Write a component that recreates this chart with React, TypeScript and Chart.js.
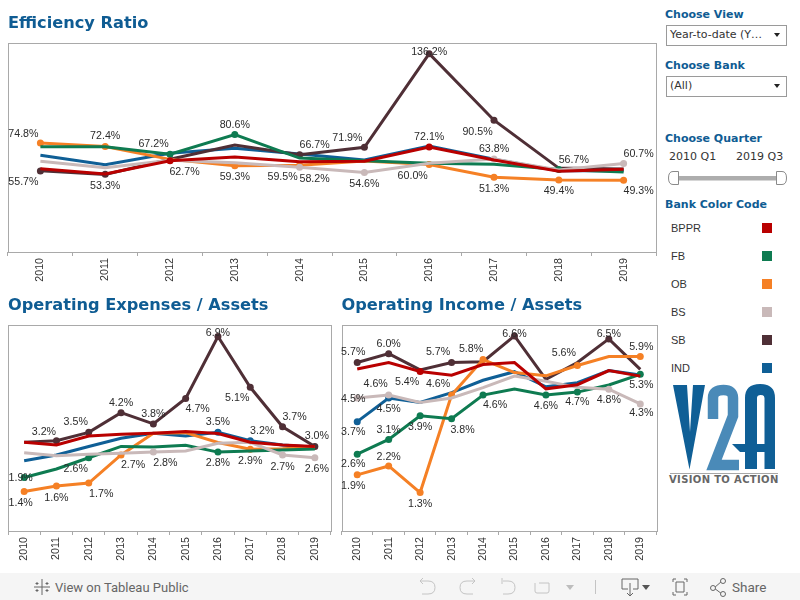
import React, { useEffect, useRef } from "react";
import { Chart, registerables } from "chart.js";

Chart.register(...registerables);

const years = ["2010", "2011", "2012", "2013", "2014", "2015", "2016", "2017", "2018", "2019"];
const bankNames = ["BPPR", "FB", "OB", "BS", "SB", "IND"];
const drawOrderTopFirst = ["BPPR", "BS", "FB", "OB", "SB", "IND"];

// Efficiency Ratio
const effBPPR = [57.2, 53.6, 62.7, 65.2, 62, 62.3, 72.1, 63.2, 55.4, 56.8];
const effFB = [72.2, 72.2, 67.2, 80.6, 64.5, 62.7, 61, 60.2, 56.7, 55];
const effOB = [74.8, 72.4, 63.6, 59.3, 59.5, 62.5, 60.0, 51.3, 49.4, 49.3];
const effBS = [62.3, 57.9, 63, 61.3, 58.2, 54.6, 61, 63.8, 56.3, 60.7];
const effSB = [55.7, 53.3, 63.7, 73.5, 66.7, 71.9, 136.2, 90.5, 57.6, 57];
const effIND = [66.4, 60, 67.8, 71.2, 67.3, 63.2, 72.8, 63.7, 55.8, 55.8];

// Operating Expenses / Assets
const expBPPR = [3.15, 3.05, 3.37, 3.43, 3.47, 3.53, 3.46, 3.15, 3.05, 3.0];
const expFB = [1.9, 2.2, 2.6, 3.0, 2.98, 3.04, 2.8, 2.84, 2.87, 2.91];
const expOB = [1.4, 1.6, 1.7, 2.7, 3.47, 3.49, 3.14, 2.9, 2.92, 2.97];
const expBS = [2.78, 2.67, 2.72, 2.76, 2.8, 2.84, 3.11, 3.15, 2.7, 2.6];
const expSB = [3.15, 3.2, 3.5, 4.2, 3.8, 4.7, 6.9, 5.1, 3.7, 3.0];
const expIND = [2.49, 2.7, 3.0, 3.29, 3.47, 3.37, 3.5, 3.2, 3.05, 2.97];

// Operating Income / Assets
const incBPPR = [5.48, 5.7, 5.4, 5.27, 5.63, 5.7, 4.81, 4.95, 5.43, 5.24];
const incFB = [2.6, 3.1, 3.9, 3.8, 4.6, 4.8, 4.6, 4.7, 4.94, 5.3];
const incOB = [1.9, 2.2, 1.3, 4.6, 5.8, 5.36, 5.25, 5.6, 5.9, 5.9];
const incBS = [4.5, 4.6, 4.35, 4.5, 4.85, 5.24, 5.07, 4.86, 4.8, 4.3];
const incSB = [5.7, 6.0, 5.45, 5.7, 5.73, 6.6, 5.13, 5.7, 6.5, 5.47];
const incIND = [3.7, 4.5, 4.35, 4.68, 5.1, 5.39, 4.88, 5.02, 5.43, 5.28];

// which points carry a value label: [bank, year index]
const effLabelled = [["OB",0],["SB",0],["OB",1],["SB",1],["FB",2],["BPPR",2],["FB",3],["OB",3],["SB",4],["OB",4],["BS",4],["SB",5],["BS",5],["SB",6],["BPPR",6],["OB",6],["SB",7],["BS",7],["OB",7],["FB",8],["OB",8],["BS",9],["OB",9]];
const expLabelled = [["FB",0],["OB",0],["SB",1],["OB",1],["SB",2],["FB",2],["OB",2],["SB",3],["OB",3],["SB",4],["BS",4],["SB",5],["SB",6],["IND",6],["FB",6],["SB",7],["IND",7],["OB",7],["SB",8],["BS",8],["SB",9],["BS",9]];
const incLabelled = [["SB",0],["BS",0],["IND",0],["FB",0],["OB",0],["SB",1],["BS",1],["IND",1],["FB",1],["OB",1],["BPPR",2],["FB",2],["OB",2],["SB",3],["OB",3],["FB",3],["OB",4],["FB",4],["SB",5],["FB",6],["OB",7],["FB",7],["SB",8],["BS",8],["OB",9],["FB",9],["BS",9]];

// label placement, relative to the point, in the same order as the lists above
const effOffsets = [[-17,-10],[-17,10],[0,-11],[0,10.5],[-16.5,-11],[14.5,10],[0,-11],[0,10.5],[15,-11],[-17,10.5],[15,10.5],[-17,-10.5],[0,10.5],[0,-3],[0,-11],[-16.5,10.5],[-16.5,11],[0,-11],[0,10.5],[15,-10.5],[0,10.5],[15,-10.5],[15,10]];
const expOffsets = [[-3.5,0],[-3.5,10.5],[-12.5,-10],[0,11],[-13,-11],[-13,10.5],[12.5,10],[0,-11],[12,9],[0,-11],[12,10],[12,10],[0,-4],[0,-11],[0,9.5],[-13,9.5],[12,-11],[0,10.5],[12,-10.5],[0,11],[2,-11],[2,10.5]];
const incOffsets = [[-4,-11],[-4,0],[-4,9],[-4,9],[-4,10],[0,-10.5],[-13,-12],[0,10],[0,-10],[0,-10],[-13,10],[0,10],[0,10.5],[-13.5,-11],[-13.5,-12],[11,10],[-12,-12],[12,9],[0,-3],[0,10],[-13.5,-13],[0,9],[0,-6],[0,10],[1,-11],[1,10],[1,8]];

const colors: Record<string, string> = {
  BPPR: "#b90000", FB: "#0e7b51", OB: "#f58025", BS: "#c9b9b9", SB: "#4f2f36", IND: "#0f5f96",
};
const TITLE_BLUE = "#0f5c93";
const FRAME = "#a9a9a9";
const SANS = "'Liberation Sans', Arial, sans-serif";
const DEJA = "'DejaVu Sans', Verdana, sans-serif";

const frameAndLabels = {
  id: "frameAndLabels",
  afterDatasetsDraw(chart: any, _a: any, opts: any) {
    const { ctx, chartArea: c, scales } = chart;
    ctx.save();
    ctx.strokeStyle = FRAME;
    ctx.lineWidth = 1;
    ctx.strokeRect(Math.round(c.left) + 0.5, Math.round(c.top) + 0.5, Math.round(c.right - c.left), Math.round(c.bottom - c.top));
    ctx.fillStyle = "#2b2b2b";
    ctx.font = `10.67px ${SANS}`;
    ctx.textAlign = "center";
    ctx.textBaseline = "middle";
    opts.labelled.forEach(([bank, i]: [string, number], k: number) => {
      const v = opts.values[bank][i];
      const [dx, dy] = opts.offsets[k];
      ctx.fillText(v.toFixed(1) + "%", scales.x.getPixelForTick(i) + dx, scales.y.getPixelForValue(v) + dy + 1);
    });
    ctx.restore();
  },
};

type Spec = {
  title: string; values: Record<string, number[]>; labelled: any[]; offsets: number[][];
  yMax: number; left: number; top: number; width: number; height: number;
  padding: any; titleTop: number; titleBottom: number; axisHeight: number;
};

function LineChart({ spec }: { spec: Spec }) {
  const ref = useRef<HTMLCanvasElement>(null);
  useEffect(() => {
    const datasets = drawOrderTopFirst.map((bank) => ({
      label: bank,
      data: spec.values[bank],
      borderColor: colors[bank],
      backgroundColor: colors[bank],
      borderWidth: 3,
      tension: 0,
      pointBorderWidth: 0,
      pointRadius: years.map((_, i) => (spec.labelled.some(([b, k]) => b === bank && k === i) ? 3.5 : 0)),
    }));
    const chart = new Chart(ref.current as HTMLCanvasElement, {
      type: "line",
      data: { labels: years, datasets },
      plugins: [frameAndLabels],
      options: {
        responsive: false,
        animation: false,
        layout: { padding: spec.padding },
        plugins: {
          legend: { display: false },
          tooltip: { enabled: false },
          title: {
            display: true,
            text: spec.title,
            align: "start",
            color: TITLE_BLUE,
            font: { family: DEJA, size: 16.2, weight: "bold", lineHeight: 1.2345 },
            padding: { top: spec.titleTop, bottom: spec.titleBottom },
          },
          frameAndLabels: { labelled: spec.labelled, offsets: spec.offsets, values: spec.values },
        } as any,
        scales: {
          x: {
            type: "category",
            offset: true,
            afterFit: (s: any) => { s.height = spec.axisHeight; },
            border: { display: false },
            grid: { offset: true, drawOnChartArea: false, drawTicks: true, tickLength: 4, color: FRAME },
            ticks: { minRotation: 90, maxRotation: 90, autoSkip: false, padding: 2, color: "#333333", font: { family: SANS, size: 10.67 } },
          },
          y: { display: false, min: 0, max: spec.yMax },
        },
      } as any,
    });
    return () => chart.destroy();
  }, [spec]);
  return (
    <canvas
      ref={ref}
      width={spec.width}
      height={spec.height}
      style={{ position: "absolute", left: spec.left, top: spec.top, width: spec.width, height: spec.height, display: "block" }}
    />
  );
}

const specs: Spec[] = [
  {
    title: "Efficiency Ratio",
    values: { BPPR: effBPPR, FB: effFB, OB: effOB, BS: effBS, SB: effSB, IND: effIND },
    labelled: effLabelled, offsets: effOffsets, yMax: 143.5,
    left: 0, top: 0, width: 660, height: 290,
    padding: { left: 8, right: 4, top: 0, bottom: 0 }, titleTop: 14, titleBottom: 9, axisHeight: 38,
  },
  {
    title: "Operating Expenses / Assets",
    values: { BPPR: expBPPR, FB: expFB, OB: expOB, BS: expBS, SB: expSB, IND: expIND },
    labelled: expLabelled, offsets: expOffsets, yMax: 7.31,
    left: 0, top: 290, width: 335, height: 280,
    padding: { left: 8, right: 2, top: 0, bottom: 0 }, titleTop: 6, titleBottom: 9, axisHeight: 39,
  },
  {
    title: "Operating Income / Assets",
    values: { BPPR: incBPPR, FB: incFB, OB: incOB, BS: incBS, SB: incSB, IND: incIND },
    labelled: incLabelled, offsets: incOffsets, yMax: 6.97,
    left: 333, top: 290, width: 327, height: 280,
    padding: { left: 8.5, right: 3.5, top: 0, bottom: 0 }, titleTop: 6, titleBottom: 9, axisHeight: 39,
  },
];

const abs = (left: number, top: number, extra: React.CSSProperties = {}): React.CSSProperties => ({
  position: "absolute", left, top, whiteSpace: "nowrap", ...extra,
});

function Heading({ y, text }: { y: number; text: string }) {
  return <div style={abs(665, y - 7, { font: `bold 11px/16px ${DEJA}`, color: TITLE_BLUE })}>{text}</div>;
}

function Dropdown({ y, text }: { y: number; text: string }) {
  return (
    <div style={abs(666, y, { width: 119, height: 18.5, border: "1px solid #9a9a9a", boxSizing: "content-box", background: "#fff" })}>
      <div style={abs(3, 0, { font: `11px/18px ${DEJA}`, color: "#333" })}>{text}</div>
      <div style={abs(107, 7, { width: 0, height: 0, borderLeft: "3.5px solid transparent", borderRight: "3.5px solid transparent", borderTop: "4px solid #222" })} />
    </div>
  );
}

function Sidebar() {
  return (
    <>
      <Heading y={14} text="Choose View" />
      <Dropdown y={25} text="Year-to-date (Y…" />
      <Heading y={65} text="Choose Bank" />
      <Dropdown y={76} text="(All)" />
      <Heading y={138} text="Choose Quarter" />
      <div style={abs(669, 150, { font: `11px/14px ${DEJA}`, color: "#333" })}>2010 Q1</div>
      <div style={abs(736, 150, { font: `11px/14px ${DEJA}`, color: "#333" })}>2019 Q3</div>
      <svg style={abs(660, 165)} width={135} height={25}>
        <rect x={17} y={11} width={102} height={4.5} fill="#adadad" />
        <path d="M18.5 6.5 H13 Q8.5 6.5 8.5 13 Q8.5 19.5 13 19.5 H18.5 Z" fill="#fff" stroke="#8a8a8a" />
        <path d="M116.5 6.5 H122 Q126.5 6.5 126.5 13 Q126.5 19.5 122 19.5 H116.5 Z" fill="#fff" stroke="#8a8a8a" />
      </svg>
      <Heading y={204} text="Bank Color Code" />
      {bankNames.map((b, i) => (
        <React.Fragment key={b}>
          <div style={abs(671, 221 + 28 * i, { font: `11px/14px ${SANS}`, color: "#333" })}>{b}</div>
          <div style={abs(762, 223 + 28 * i, { width: 10, height: 10, background: colors[b] })} />
        </React.Fragment>
      ))}
      <svg style={abs(660, 380)} width={130} height={110}>
        <path d="M13 5 H27 L30 52 L33 5 H45 L29.5 89.5 Z" fill="#0f5f96" />
        <path d="M53 39 V18 Q53 10 63.5 10 Q73 10 73 18 V36 L54 85 H79" fill="none" stroke="#4a8ab8" strokeWidth="10.5" />
        <path d="M85 89 V18 Q85 4 100 4 Q115 4 115 18 V89 H104.5 V72 H97 V89 Z M97 64 H104.5 V18 Q104.5 15 100.7 15 Q97 15 97 18 Z" fill="#0f5f96" fillRule="evenodd" />
        <path d="M72 64 H98 V72 H80 Z" fill="#0f5f96" />
        <rect x={10} y={93} width={108} height={1} fill="#a8a8a8" />
      </svg>
      <div style={abs(669, 473, { font: `bold 10px/14px ${DEJA}`, color: "#666", letterSpacing: "0.35px" })}>VISION TO ACTION</div>
    </>
  );
}

function Toolbar() {
  const d = "#666";
  return (
    <div style={abs(0, 573, { width: 800, height: 27, background: "#f5f5f5" })}>
      <svg style={abs(0, 0)} width={800} height={27} fill="none" strokeWidth={1}>
        <g stroke={d}>
          <path d="M42 6 V22 M34 14 H50 M37 9 V12 M35.5 10.5 H38.5 M47 9 V12 M45.5 10.5 H48.5 M37 16 V19 M35.5 17.5 H38.5 M47 16 V19 M45.5 17.5 H48.5" />
        </g>
        <g stroke="#c4c4c4">
          <path d="M420 8 H428 Q435 8 435 14.5 Q435 21 428 21 H422 M420 8 L423 5 M420 8 L423 11" />
          <path d="M475 8 H467 Q460 8 460 14.5 Q460 21 467 21 H473 M475 8 L472 5 M475 8 L472 11" />
          <path d="M503 8 H508 Q515 8 515 14.5 Q515 21 508 21 H503 M502 5 V11" />
          <path d="M535 10 V18 Q535 20 537 20 H547 Q549 20 549 18 V10 H539" />
          <path d="M595.5 7 V21" />
        </g>
        <path d="M566 12 H574 L570 17 Z" fill="#bdbdbd" />
        <g stroke={d}>
          <path d="M622 16 V6 H638 V16 H633 M628 16 H622 M630 10 V23 M627 20 L630 23 L633 20" />
          <path d="M676 9 H684 V19 H676 Z M673 9 V6 H676 M684 6 H687 V9 M673 19 V22 H676 M684 22 H687 V19" />
          <path d="M714 15 L722 8 M714 15 L722 21" />
          <circle cx={713} cy={15} r={2.5} fill="#f5f5f5" />
          <circle cx={723} cy={8} r={2.5} fill="#f5f5f5" />
          <circle cx={723} cy={21} r={2.5} fill="#f5f5f5" />
        </g>
        <path d="M642 12 H650 L646 17 Z" fill="#555" />
      </svg>
      <div style={abs(55, 7, { font: `13px/15px Roboto, ${SANS}`, color: "#666" })}>View on Tableau Public</div>
      <div style={abs(732, 7, { font: `13.5px/15px Roboto, ${SANS}`, color: "#666" })}>Share</div>
    </div>
  );
}

export default function App() {
  return (
    <div style={{ position: "fixed", left: 0, top: 0, width: 800, height: 600, background: "#fff", overflow: "hidden" }}>
      {specs.map((s) => <LineChart key={s.title} spec={s} />)}
      <Sidebar />
      <Toolbar />
    </div>
  );
}
